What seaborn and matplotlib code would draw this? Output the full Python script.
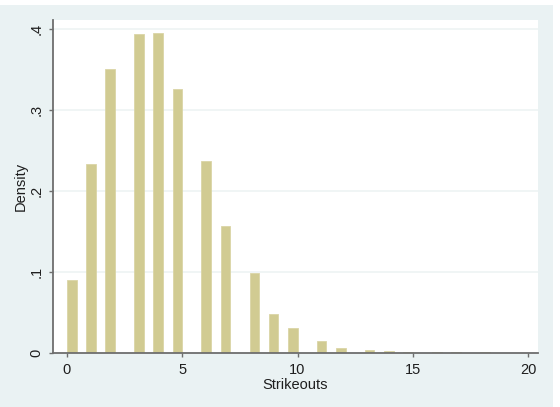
import matplotlib

matplotlib.use("Agg")
import matplotlib.pyplot as plt
import numpy as np
import pandas as pd
import seaborn as sns
from matplotlib.patches import Rectangle

# strikeouts per game and the density of each histogram bin
strikeouts = [0, 1, 2, 3, 4, 5, 6, 7, 8, 9, 10, 11, 12, 13, 14, 15, 16, 17, 18]
density = [0.090, 0.233, 0.350, 0.393, 0.394, 0.326, 0.237, 0.157, 0.099,
           0.049, 0.0315, 0.0155, 0.0069, 0.0045, 0.0025, 0.002, 0.002,
           0.001, 0.001]

x_ticks = [0, 5, 10, 15, 20]
y_ticks = [0, 0.1, 0.2, 0.3, 0.4]
y_tick_labels = ["0", ".1", ".2", ".3", ".4"]

# Stata style binning: 48 bins over 0..20, upper edge inclusive
N_BINS = 48
X_MAX = 20

BAR = "#D1CB92"
BG = "#EAF2F3"
AXIS = "#6E6E6E"
TEXT = "#1E1E1E"


def bin_centers(values: list[int]) -> np.ndarray:
    v = np.asarray(values, dtype=float)
    idx = np.maximum(np.ceil(v * N_BINS / X_MAX) - 1, 0)
    return (idx + 0.5) * X_MAX / N_BINS


def main() -> None:
    sns.set_theme(style="white")
    plt.rcParams["font.family"] = ["Liberation Sans", "DejaVu Sans"]

    df = pd.DataFrame({"x": bin_centers(strikeouts), "density": density})

    fig = plt.figure(figsize=(5.6, 4.07), dpi=100, facecolor="white")
    fig.patches.append(Rectangle((0, 0), 553 / 560, 402 / 407,
                                 transform=fig.transFigure, facecolor=BG,
                                 edgecolor="none", zorder=-1))
    ax = fig.add_axes([53 / 560, 1 - 353.3 / 407, 485 / 560, 333.3 / 407])
    ax.set_facecolor("white")

    sns.histplot(data=df, x="x", weights="density", binwidth=X_MAX / N_BINS,
                 binrange=(0, X_MAX), stat="count", color=BAR, alpha=1,
                 edgecolor="#DAD5A6", linewidth=0.6, ax=ax)

    ax.set_xlim(-0.607, 20.43)
    ax.set_ylim(0, 0.4105)

    ax.set_yticks(y_ticks)
    ax.set_yticklabels(y_tick_labels, rotation=90, va="center")
    ax.set_xticks(x_ticks)
    ax.set_xticklabels([str(t) for t in x_ticks])

    ax.grid(axis="y", color="#EDF3F3", linewidth=1.2)
    ax.set_axisbelow(True)

    for side in ["top", "right"]:
        ax.spines[side].set_visible(False)
    for side in ["left", "bottom"]:
        ax.spines[side].set_color(AXIS)
        ax.spines[side].set_linewidth(1.3)

    ax.tick_params(axis="both", direction="out", length=3, width=1,
                   color=AXIS, labelcolor=TEXT, labelsize=10.5, pad=4)
    ax.tick_params(axis="x", bottom=True)
    ax.tick_params(axis="y", left=True)

    ax.set_xlabel("Strikeouts", fontsize=10.5, color=TEXT)
    ax.set_ylabel("Density", fontsize=10.5, color=TEXT)
    ax.xaxis.set_label_coords(0.5, -0.073)
    ax.yaxis.set_label_coords(-0.052, 0.5)

    fig.savefig("out.png", dpi=100)
    plt.close(fig)


if __name__ == "__main__":
    main()
